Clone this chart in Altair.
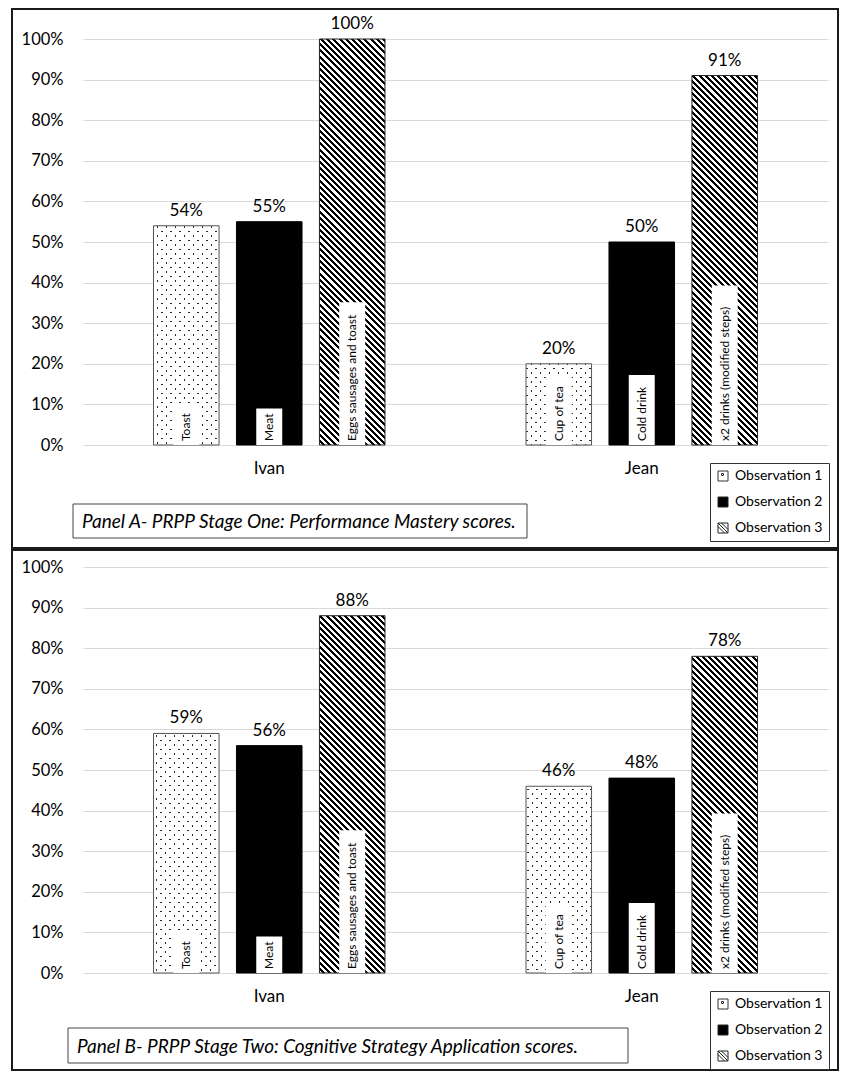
import math
import altair as alt
import pandas as pd

# ---------------- data ----------------
persons = ["Ivan", "Ivan", "Ivan", "Jean", "Jean", "Jean"]
observations = ["Observation 1", "Observation 2", "Observation 3",
                "Observation 1", "Observation 2", "Observation 3"]
tasks = ["Toast", "Meat", "Eggs sausages and toast",
         "Cup of tea", "Cold drink", "x2 drinks (modified steps)"]
panel_a_scores = [54, 55, 100, 20, 50, 91]
panel_b_scores = [59, 56, 88, 46, 48, 78]
y_ticks = [0, 10, 20, 30, 40, 50, 60, 70, 80, 90, 100]
person_domain = ["Ivan", "Jean"]
obs_domain = ["Observation 1", "Observation 2", "Observation 3"]
captions = ["Panel A- PRPP Stage One: Performance Mastery scores.",
            "Panel B- PRPP Stage Two: Cognitive Strategy Application scores."]

# ---------------- layout / style ----------------
FONT = "Lato"
PLOT_W = 745
PLOT_H = 406
OFF_PI = 0.21
OFF_PO = 0.85
BAR_W = (PLOT_W / 2) / (3 - OFF_PI + 2 * OFF_PO) * (1 - OFF_PI)
CHAR_PX = 5.6   # approx. width of one label character (px)
BOX_PAD = 14    # extra length of the white label box (px)


def stripe_stops(length, period, width, on, off):
    stops = [{"offset": 0, "color": off}]
    k = 0
    while True:
        a = k * period + period / 2.0
        if a >= length:
            break
        b = min(a + width, length)
        oa = round(a / length, 5)
        ob = round(b / length, 5)
        stops += [{"offset": oa, "color": off}, {"offset": oa, "color": on},
                  {"offset": ob, "color": on}, {"offset": ob, "color": off}]
        k += 1
    stops.append({"offset": 1, "color": off})
    return stops


def grad_back(w, h, stops):
    # stripes running down-right "\"
    k = (w + h) / (w * w + h * h)
    return {"gradient": "linear", "x1": 0, "y1": 1,
            "x2": round(w * k, 5), "y2": round(1 - h * k, 5), "stops": stops}


def grad_fwd(w, h, stops):
    # stripes running up-right "/"
    k = (w + h) / (w * w + h * h)
    return {"gradient": "linear", "x1": 0, "y1": 0,
            "x2": round(w * k, 5), "y2": round(h * k, 5), "stops": stops}


def dots_layers(h):
    L = BAR_W + h
    lines = grad_back(BAR_W, h, stripe_stops(L, 9.0, 2.0, "#2a2a2a", "white"))
    mask = grad_fwd(BAR_W, h, stripe_stops(L, 9.0, 2.0, "rgba(255,255,255,0)", "white"))
    return lines, mask


def hatch_fill(h):
    L = BAR_W + h
    return grad_back(BAR_W, h, stripe_stops(L, 6.2, 3.0, "black", "white"))


P1 = "M-1,-1H1V1H-1Z M-0.3,-0.5H0.1V-0.1H-0.3Z"
P3 = "M-1,-1H1V1H-1Z M-1,-1L1,1 M-1,-0.3L0.3,1 M-0.3,-1L1,0.3"

one_row = alt.Data(values=[{"a": 1}])


def panel(scores, caption, frame_y, cap_box, cap_text_x):
    df = pd.DataFrame({"person": persons, "obs": observations,
                       "task": tasks, "score": scores})
    base = alt.Chart(df).encode(
        x=alt.X("person:N",
                scale=alt.Scale(domain=person_domain, paddingInner=0, paddingOuter=0),
                axis=alt.Axis(title=None, labelAngle=0, ticks=False, domain=False,
                              labelFontSize=17, labelPadding=15, labelFont=FONT,
                              labelColor="black", grid=False)),
        xOffset=alt.XOffset("obs:N",
                            scale=alt.Scale(domain=obs_domain,
                                            paddingInner=OFF_PI, paddingOuter=OFF_PO)),
        y=alt.Y("score:Q", scale=alt.Scale(domain=[0, 100]),
                axis=alt.Axis(title=None, values=y_ticks, labelExpr="datum.value + '%'",
                              grid=True, gridColor="#d9d9d9", gridWidth=1,
                              ticks=False, tickSize=0, domain=False, labelPadding=20,
                              labelFontSize=16.5, labelFont=FONT, labelColor="black")),
    )

    frame = alt.Chart(one_row).mark_rect(
        fillOpacity=0, stroke="#1a1a1a", strokeWidth=2
    ).encode(x=alt.value(-71), x2=alt.value(755),
             y=alt.value(frame_y[0]), y2=alt.value(frame_y[1]))

    layers = [frame]
    layers.append(base.transform_filter(alt.datum.obs == "Observation 2")
                  .mark_bar(fill="black", stroke="black", strokeWidth=1))

    for p, o, s in zip(persons, observations, scores):
        h = s / 100.0 * PLOT_H
        sel = base.transform_filter((alt.datum.person == p) & (alt.datum.obs == o))
        if o == "Observation 1":
            lines, mask = dots_layers(h)
            layers.append(sel.mark_bar(fill=lines))
            layers.append(sel.mark_bar(fill=mask, stroke="#555555", strokeWidth=1))
        elif o == "Observation 3":
            layers.append(sel.mark_bar(fill=hatch_fill(h), stroke="#222222", strokeWidth=1))

    box_expr = "(length(datum.task) * %s + %s) * 100 / %s" % (CHAR_PX, BOX_PAD, PLOT_H)
    box = base.transform_calculate(score=box_expr).mark_bar(
        width=26, fill="white", strokeWidth=0
    ).encode(y2=alt.datum(0))
    inner = base.mark_text(angle=270, align="left", baseline="middle", dx=4,
                           font=FONT, fontSize=12, color="black").encode(
        y=alt.datum(0), text="task:N")
    values = base.transform_calculate(label="datum.score + '%'").mark_text(
        dy=-10, baseline="alphabetic", font=FONT, fontSize=17, color="black"
    ).encode(text="label:N")

    leg = alt.Legend(title=None, orient="none", legendX=627, legendY=424,
                     strokeColor="#333333", fillColor="white", padding=6,
                     labelFont=FONT, labelFontSize=14, labelColor="black",
                     symbolSize=100, symbolStrokeWidth=1,
                     symbolOpacity=1, rowPadding=12, labelOffset=5, cornerRadius=0)
    legend_layer = base.mark_point(opacity=0, filled=True, strokeWidth=1).encode(
        shape=alt.Shape("obs:N", scale=alt.Scale(domain=obs_domain, range=[P1, "square", P3]),
                        legend=leg),
        fill=alt.Fill("obs:N", scale=alt.Scale(domain=obs_domain,
                                               range=["white", "black", "white"]),
                      legend=leg),
        stroke=alt.Stroke("obs:N", scale=alt.Scale(domain=obs_domain,
                                                   range=["#333333", "#222222", "#222222"]),
                          legend=leg),
    )

    cap_rect = alt.Chart(one_row).mark_rect(
        fill="white", stroke="#444444", strokeWidth=1
    ).encode(x=alt.value(cap_box[0]), x2=alt.value(cap_box[1]),
             y=alt.value(cap_box[2]), y2=alt.value(cap_box[3]))
    cap_text = alt.Chart(one_row).mark_text(
        align="left", baseline="middle", font=FONT, fontSize=19,
        fontStyle="italic", color="black"
    ).encode(x=alt.value(cap_text_x), y=alt.value((cap_box[2] + cap_box[3]) / 2 + 1),
             text=alt.value(caption))

    layers += [box, inner, values, legend_layer, cap_rect, cap_text]
    return alt.layer(*layers).properties(width=PLOT_W, height=PLOT_H)


panel_a = panel(panel_a_scores, captions[0], (-30, 509), (-10, 444, 465, 499), -1)
panel_b = panel(panel_b_scores, captions[1], (-17, 503), (-15, 545, 461, 496), -6)

chart = alt.vconcat(panel_a, panel_b, spacing=0).resolve_scale(
    fill="independent", shape="independent", stroke="independent"
).resolve_legend(
    fill="independent", shape="independent", stroke="independent"
).properties(
    padding={"left": 11, "top": 8, "right": 0, "bottom": 0},
    background="white",
).configure_view(strokeWidth=0).configure_text(font=FONT)

chart.save("out.html", embed_options={"renderer": "svg", "actions": False})
